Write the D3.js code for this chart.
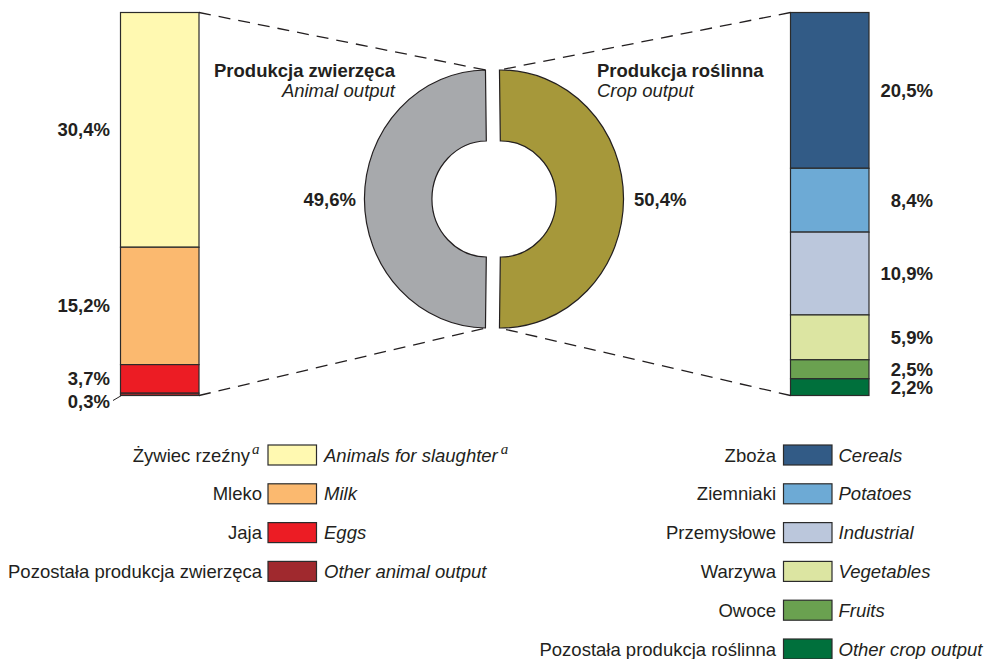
<!DOCTYPE html>
<html><head><meta charset="utf-8">
<script src="https://cdn.jsdelivr.net/npm/d3@7"></script>
<style>
body{margin:0;background:#fff;}
text{font-family:"Liberation Sans",Arial,sans-serif;fill:#231f20;}
</style></head>
<body><svg id="c" width="993" height="659"></svg>
<script>
const groupNames = ["Produkcja zwierzęca", "Produkcja roślinna"];
const groupNamesEn = ["Animal output", "Crop output"];
const groupValues = [49.6, 50.4];
const groupColors = ["#a7a9ac", "#a6983a"];

const animalCats = ["Żywiec rzeźny", "Mleko", "Jaja", "Pozostała produkcja zwierzęca"];
const animalCatsEn = ["Animals for slaughter", "Milk", "Eggs", "Other animal output"];
const animalValues = [30.4, 15.2, 3.7, 0.3];
const animalColors = ["#fff9b1", "#fbb96f", "#ec1c24", "#a0292e"];
const animalFootnote = ["a", "", "", ""];

const cropCats = ["Zboża", "Ziemniaki", "Przemysłowe", "Warzywa", "Owoce", "Pozostała produkcja roślinna"];
const cropCatsEn = ["Cereals", "Potatoes", "Industrial", "Vegetables", "Fruits", "Other crop output"];
const cropValues = [20.5, 8.4, 10.9, 5.9, 2.5, 2.2];
const cropColors = ["#325b86", "#6daad5", "#bbc7dc", "#dce5a2", "#6aa150", "#00703c"];

const fmt = v => d3.format(".1f")(v).replace(".", ",") + "%";
const svg = d3.select("#c");
const FS = 18.5;

// ---------- stacked bars ----------
const barTop = 12.5, barBottom = 395.5;
function stack(values){
  let acc = 0;
  return values.map((v,i) => { const s = {i, v, y0: acc, y1: acc + v}; acc += v; return s; });
}
function drawBar(values, colors, x0, x1, labelX, anchor, special){
  const total = d3.sum(values);
  const y = d3.scaleLinear().domain([0, total]).range([barTop, barBottom]);
  const st = stack(values);
  const g = svg.append("g");
  g.selectAll("rect").data(st).join("rect")
    .attr("x", x0).attr("width", x1 - x0)
    .attr("y", d => y(d.y0)).attr("height", d => y(d.y1) - y(d.y0))
    .attr("fill", (d) => colors[d.i]).attr("stroke", "#2b2b2b").attr("stroke-width", 1.2);
  g.selectAll("text").data(st).join("text")
    .attr("x", labelX).attr("text-anchor", anchor)
    .attr("y", d => special && special.i === d.i ? y(d.y1) + special.dy : (y(d.y0) + y(d.y1)) / 2 + 6.5)
    .attr("font-weight", "bold").attr("font-size", FS)
    .text(d => fmt(d.v));
  if (special){
    const d = st[special.i];
    g.append("line").attr("x1", labelX + 3).attr("y1", y(d.y1) + 5)
      .attr("x2", x0 + 1).attr("y2", y(d.y1))
      .attr("stroke", "#231f20").attr("stroke-width", 1);
  }
  return y;
}
drawBar(animalValues, animalColors, 120.5, 199, 110, "end", {i: 3, dy: 12.5});
drawBar(cropValues, cropColors, 790.5, 869, 933, "end", null);

// ---------- donut ----------
const cx = 494, cy = 199, rOut = 129, rIn = 58, sx = 0.95, off = 7 / 0.95;
const a0 = -Math.PI / 2 - Math.PI * groupValues[0] / d3.sum(groupValues);
const pie = d3.pie().sort(null).startAngle(a0).endAngle(a0 + 2 * Math.PI);
const arcs = pie(groupValues);
const arc = d3.arc().innerRadius(rIn).outerRadius(rOut);
const dg = svg.append("g").attr("transform", `translate(${cx},${cy}) scale(${sx},1)`);
const dirs = [-1, 1];
dg.selectAll("path").data(arcs).join("path")
  .attr("d", arc)
  .attr("transform", (d,i) => `translate(${dirs[i]*off},0)`)
  .attr("fill", (d,i) => groupColors[i])
  .attr("stroke", "#231f20").attr("stroke-width", 1.2)
  .attr("vector-effect", "non-scaling-stroke");

function edgePt(i, ang){
  return [cx + sx * (rOut * Math.sin(ang) + dirs[i] * off), cy - rOut * Math.cos(ang)];
}
// gray: top edge at endAngle, bottom at startAngle; olive: top at startAngle, bottom at endAngle
const gTop = edgePt(0, arcs[0].endAngle), gBot = edgePt(0, arcs[0].startAngle);
const oTop = edgePt(1, arcs[1].startAngle), oBot = edgePt(1, arcs[1].endAngle);
const dash = [
  [[199, barTop], gTop], [[199, barBottom], gBot],
  [[790.5, barTop], oTop], [[790.5, barBottom], oBot]
];
svg.append("g").selectAll("line").data(dash).join("line")
  .attr("x1", d => d[0][0]).attr("y1", d => d[0][1])
  .attr("x2", d => d[1][0]).attr("y2", d => d[1][1])
  .attr("stroke", "#231f20").attr("stroke-width", 1.3)
  .attr("stroke-dasharray", "12,8");

// donut labels
svg.append("text").attr("x", 356).attr("y", cy + 6.5).attr("text-anchor", "end")
  .attr("font-weight", "bold").attr("font-size", FS).text(fmt(groupValues[0]));
svg.append("text").attr("x", 634).attr("y", cy + 6.5).attr("text-anchor", "start")
  .attr("font-weight", "bold").attr("font-size", FS).text(fmt(groupValues[1]));

// group titles
svg.append("text").attr("x", 395).attr("y", 77).attr("text-anchor", "end")
  .attr("font-weight", "bold").attr("font-size", FS).text(groupNames[0]);
svg.append("text").attr("x", 395).attr("y", 97).attr("text-anchor", "end")
  .attr("font-style", "italic").attr("font-size", FS).text(groupNamesEn[0]);
svg.append("text").attr("x", 597).attr("y", 77).attr("text-anchor", "start")
  .attr("font-weight", "bold").attr("font-size", FS).text(groupNames[1]);
svg.append("text").attr("x", 597).attr("y", 97).attr("text-anchor", "start")
  .attr("font-style", "italic").attr("font-size", FS).text(groupNamesEn[1]);

// ---------- legends ----------
function sup(g, x, y, note){
  g.append("text").attr("x", x).attr("y", y)
    .style("font-family", "'Liberation Serif', serif").style("font-style", "italic")
    .style("font-size", "15px").text(note);
}
function legend(cats, catsEn, colors, notes, swX, plX, enX){
  const rowY = d3.scaleLinear().domain([0, 1]).range([455, 493.8]);
  const g = svg.append("g");
  cats.forEach((c, i) => {
    const yc = rowY(i);
    g.append("rect").attr("x", swX).attr("y", yc - 10).attr("width", 48.5).attr("height", 20)
      .attr("fill", colors[i]).attr("stroke", "#2b2b2b").attr("stroke-width", 1.2);
    const note = notes ? notes[i] : "";
    g.append("text").attr("x", plX - (note ? 12 : 0)).attr("y", yc + 6.5)
      .attr("text-anchor", "end").attr("font-size", FS).text(c);
    if (note) sup(g, plX - 10, yc - 1, note);
    const t2 = g.append("text").attr("x", enX).attr("y", yc + 6.5)
      .attr("font-style", "italic").attr("font-size", FS).text(catsEn[i]);
    if (note){
      const w = t2.node().getComputedTextLength();
      sup(g, enX + w + 3, yc - 1, note);
    }
  });
}
legend(animalCats, animalCatsEn, animalColors, animalFootnote, 268, 262, 324);
legend(cropCats, cropCatsEn, cropColors, null, 783.5, 776, 838.5);
</script></body></html>
